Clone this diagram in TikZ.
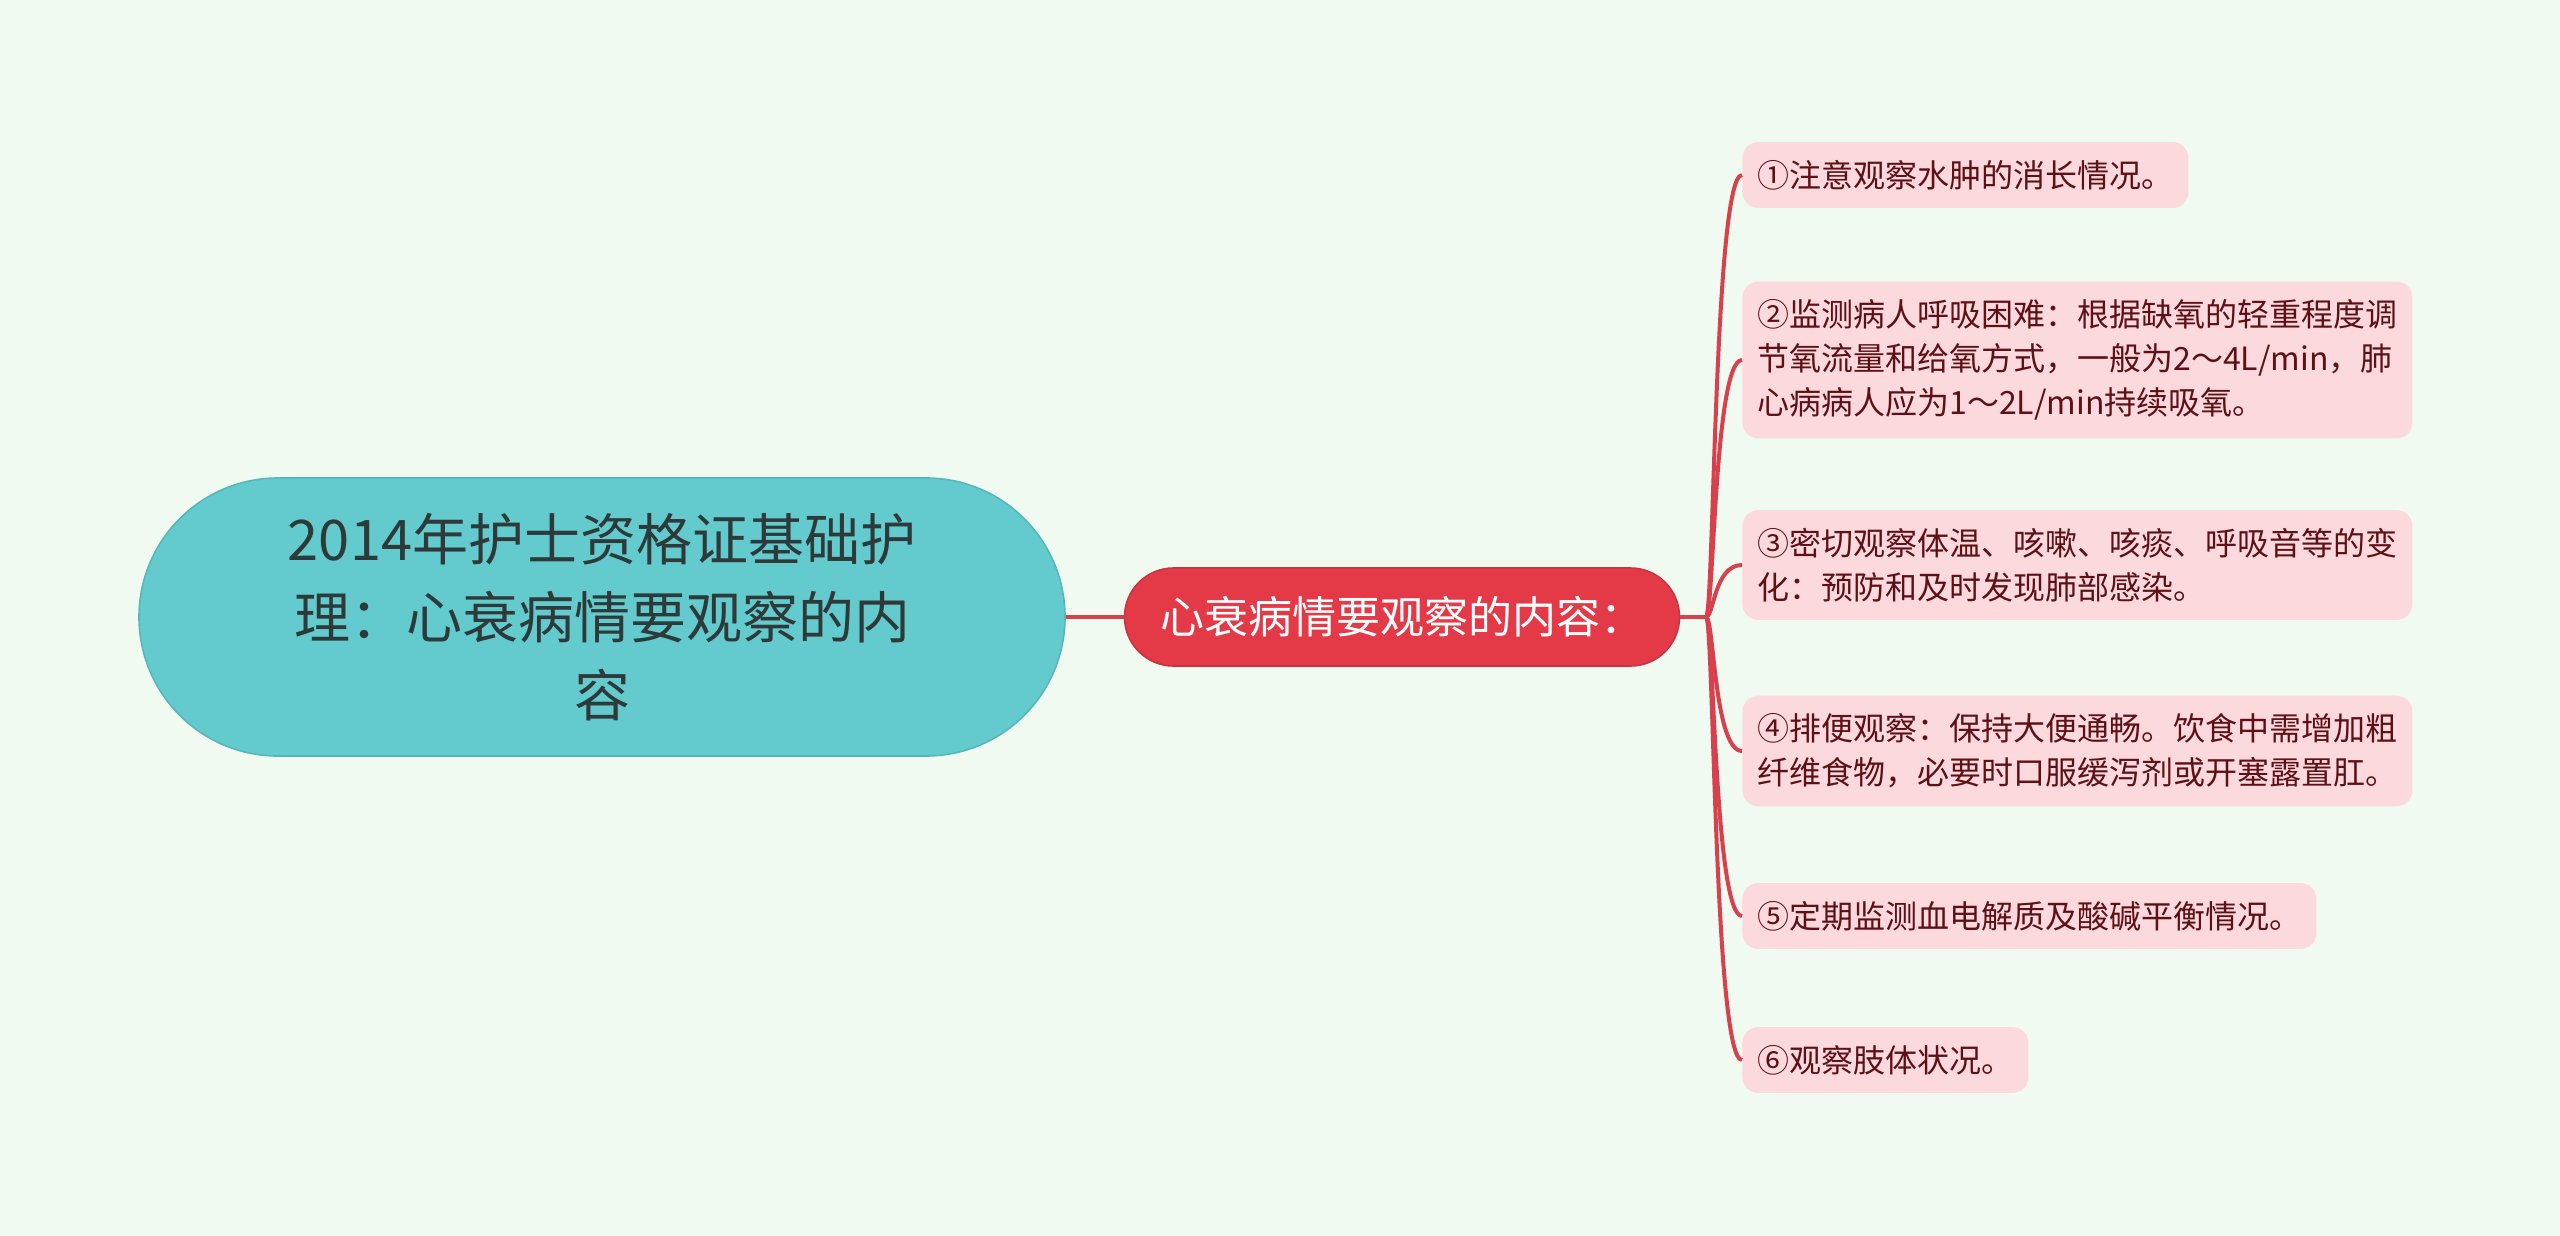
\documentclass[tikz,border=0pt]{standalone}
\usepackage{fontspec}
\setmainfont{Noto Sans CJK SC}
\usepackage{tikz}
\usetikzlibrary{shapes}
\definecolor{bgmint}{HTML}{F1FAF0}
\definecolor{rootfill}{HTML}{63CBCD}
\definecolor{rootedge}{HTML}{55B8BA}
\definecolor{roottext}{HTML}{2E3A3A}
\definecolor{mainfill}{HTML}{E43A48}
\definecolor{mainedge}{HTML}{CC3340}
\definecolor{leaffill}{HTML}{FBD9DC}
\definecolor{leaftext}{HTML}{5E1016}
\definecolor{linered}{HTML}{D9404D}
\tikzstyle{rootnode} = [rectangle, draw=rootedge, line width=0.8pt, fill=rootfill, text=roottext, rounded corners=69.5pt, minimum width=463pt, minimum height=139pt, align=center, font=\fontsize{28}{39}\selectfont]
\tikzstyle{mainnode} = [rectangle, draw=mainedge, line width=0.8pt, fill=mainfill, text=white, rounded corners=24.5pt, minimum width=277.5pt, minimum height=49pt, align=center, font=\fontsize{22}{28}\selectfont]
\tikzstyle{leaf} = [rectangle, fill=leaffill, text=leaftext, rounded corners=8pt, inner xsep=7.5pt, inner ysep=9pt, align=left, anchor=west, font=\fontsize{16}{22}\selectfont]
\tikzstyle{branch} = [draw, line width=2pt, color=linered]

\begin{document}
\begin{tikzpicture}[x=0.5pt, y=-0.5pt]
		\useasboundingbox [fill=bgmint] (0,0) rectangle (2560,1236);
		% Place nodes
		\node [rootnode] (root) at (602,617) {2014年护士资格证基础护\\理：心衰病情要观察的内\\容};
		\node [mainnode] (main) at (1402,617) {心衰病情要观察的内容：};
		\coordinate (hub) at (1706,617);
		\node [leaf] (c1) at (1742,175) {①注意观察水肿的消长情况。};
		\node [leaf] (c2) at (1742,360) {②监测病人呼吸困难：根据缺氧的轻重程度调\\节氧流量和给氧方式，一般为2～4L/min，肺\\心病病人应为1～2L/min持续吸氧。};
		\node [leaf] (c3) at (1742,565) {③密切观察体温、咳嗽、咳痰、呼吸音等的变\\化：预防和及时发现肺部感染。};
		\node [leaf] (c4) at (1742,751) {④排便观察：保持大便通畅。饮食中需增加粗\\纤维食物，必要时口服缓泻剂或开塞露置肛。};
		\node [leaf] (c5) at (1742,916) {⑤定期监测血电解质及酸碱平衡情况。};
		\node [leaf] (c6) at (1742,1060) {⑥观察肢体状况。};
		% Draw edges
		\path [branch] (root.east) -- (main.west);
		\path [branch] (main.east) -- (hub);
		\path [branch] (hub) .. controls +(8,0) and +(-28,0) .. (c1.west);
		\path [branch] (hub) .. controls +(8,0) and +(-28,0) .. (c2.west);
		\path [branch] (hub) .. controls +(8,0) and +(-28,0) .. (c3.west);
		\path [branch] (hub) .. controls +(8,0) and +(-28,0) .. (c4.west);
		\path [branch] (hub) .. controls +(8,0) and +(-28,0) .. (c5.west);
		\path [branch] (hub) .. controls +(8,0) and +(-28,0) .. (c6.west);
	\end{tikzpicture}
\end{document}
